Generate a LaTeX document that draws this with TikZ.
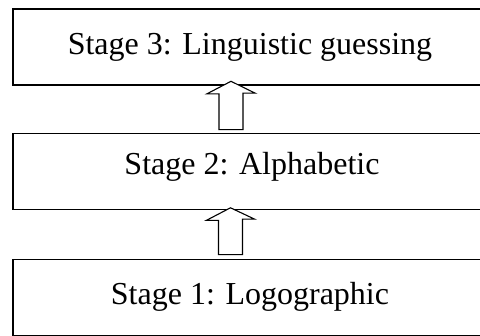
\documentclass[tikz,border=0pt]{standalone}
\usepackage{fontspec}
\setmainfont{Liberation Serif}
\usetikzlibrary{calc}
\begin{document}
\begin{tikzpicture}[x=1pt,y=-1pt,
  stagebox/.style={draw,line width=1.6pt,rectangle,minimum width=474pt,minimum height=76pt,inner sep=0pt},
  stagetext/.style={anchor=base,inner sep=0pt,font=\fontsize{32}{38}\selectfont},
  hollow/.style={draw,line width=1.1pt,fill=white,line join=miter}]
\useasboundingbox (0,0) rectangle (480,336);
\clip (0,0) rectangle (480,336);
\node[stagebox] (s3) at (250,47) {};
\node[stagebox] (s2) at (250,171.5) {};
\node[stagebox] (s1) at (250,297.5) {};
\node[stagetext] (t3) at (250,55) {Stage 3: Linguistic guessing};
\node[stagetext] (t2) at (252,174.3) {Stage 2: Alphabetic};
\node[stagetext] (t1) at (250,304.3) {Stage 1: Logographic};
% hollow arrow from stage 2 to stage 3
\coordinate (a2b) at ($(s2.north)+(-19,-3)$);
\coordinate (a2t) at ($(s3.south)+(-19,-4.5)$);
\draw[hollow] (a2b) ++(-12,0) -- ++(24,0) -- ++(0,-36.5) -- ++(12.2,0) -- (a2t) -- ++(-24.2,12.6) -- ++(12.2,0) -- cycle;
% hollow arrow from stage 1 to stage 2
\coordinate (a1b) at ($(s1.north)+(-19.5,-4)$);
\coordinate (a1t) at ($(s2.south)+(-19.5,-2.5)$);
\draw[hollow] (a1b) ++(-12,0) -- ++(24,0) -- ++(0,-35.5) -- ++(12.2,0) -- (a1t) -- ++(-24.2,12.6) -- ++(12.2,0) -- cycle;
\end{tikzpicture}
\end{document}
